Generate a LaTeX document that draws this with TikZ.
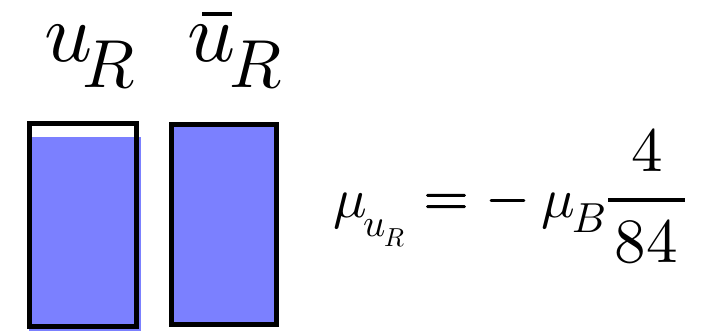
\documentclass[tikz,border=0pt]{standalone}
\usepackage{fontspec}
\newfontfamily\mifont{latinmodern-math.otf}
\newfontfamily\mibold{latinmodern-math.otf}[FakeBold=1.6]
\definecolor{fillblue}{RGB}{123,128,255}
\tikzset{
  boxline/.style={line width=5pt, draw=black},
  itxt/.style={inner sep=0pt, outer sep=0pt, anchor=base west, font=\mifont},
  ntxt/.style={inner sep=0pt, outer sep=0pt, anchor=base, font=\mifont},
  optxt/.style={inner sep=0pt, outer sep=0pt, anchor=base, font=\mibold},
}
\newcommand{\fs}[1]{\fontsize{#1}{#1}\selectfont}
\begin{document}
\begin{tikzpicture}[x=1pt,y=-1pt]
\useasboundingbox (0,0) rectangle (709,331);
% left box (partly filled)
\fill[fillblue] (29,137) rectangle (141,331);
\draw[boxline] (29.2,123.2) rectangle (136.8,326.8);
% right box (full)
\filldraw[boxline, fill=fillblue] (171.2,124.2) rectangle (276.8,324.2);
% top labels
\node[itxt] (u1) at (44,62) {\fs{84}𝑢};
\node[itxt] (r1) at (82,88) {\fs{68}𝑅};
\node[itxt] (u2) at (187,62) {\fs{84}𝑢};
\draw[line width=4pt] (202,14) -- (232,14);
\node[itxt] (r2) at (229,88) {\fs{68}𝑅};
% equation
\node[itxt] (mu1) at (333,217) {\fs{56}𝜇};
\node[itxt] (su) at (363,236) {\fs{39}𝑢};
\node[itxt] (sr) at (384,246) {\fs{26}𝑅};
\node[optxt] (eq) at (446,215.5) {\fs{58}=};
\node[optxt] (minus) at (507.5,213.5) {\fs{52}−};
\node[itxt] (mu2) at (541,218) {\fs{56}𝜇};
\node[itxt] (sb) at (572,233) {\fs{42}𝐵};
\draw[line width=4.5pt] (608,200) -- (685,200);
\node[ntxt] (n4) at (647,172) {\fs{63}4};
\node[ntxt] (n84) at (646,262) {\fs{63}84};
\end{tikzpicture}
\end{document}
